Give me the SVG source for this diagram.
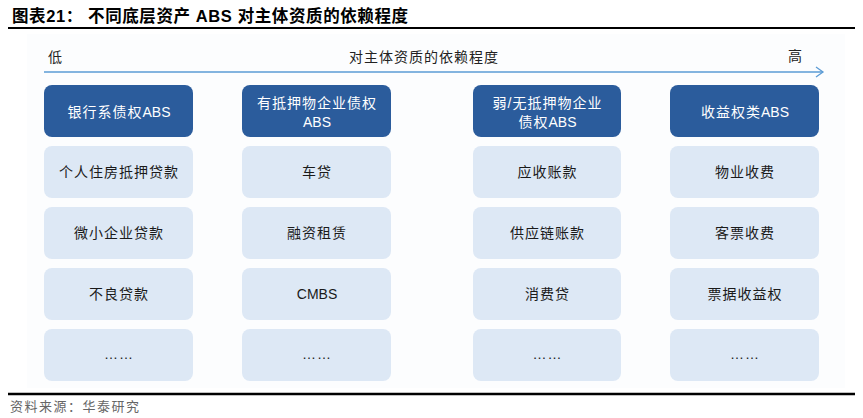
<svg xmlns="http://www.w3.org/2000/svg" width="863" height="418" viewBox="0 0 863 418">
<style>
.t{font-family:"Liberation Sans","Noto Sans CJK SC",sans-serif;}
.hd rect{fill:#2b5c9c;}
.hd text{fill:#ffffff;font-family:"Liberation Sans","Noto Sans CJK SC",sans-serif;font-size:14px;letter-spacing:1px;text-anchor:middle;}
.hd tspan.l{letter-spacing:0px;}
.it rect{fill:#dde8f5;}
.it text{fill:#1a1a1a;font-family:"Liberation Sans","Noto Sans CJK SC",sans-serif;font-size:14px;letter-spacing:1px;text-anchor:middle;}
.it text.l{letter-spacing:0px;}
.ax{fill:#222;font-family:"Liberation Sans","Noto Sans CJK SC",sans-serif;font-size:14px;letter-spacing:1px;}
</style>
<defs>
<marker id="chev" markerWidth="12" markerHeight="12" refX="10" refY="6" orient="auto" markerUnits="userSpaceOnUse">
<path d="M3,1 L10,6 L3,11" fill="none" stroke="#5b9bd5" stroke-width="1.3"/>
</marker>
</defs>
<rect width="863" height="418" fill="#ffffff"/>
<text x="12" y="22" class="t" font-size="16.5" font-weight="bold" letter-spacing="0.6" fill="#000">图表21：  不同底层资产 ABS 对主体资质的依赖程度</text>
<line x1="8" y1="28" x2="855" y2="28" stroke="#000" stroke-width="2"/>
<rect x="27" y="34" width="818" height="354" fill="#fcfdfe"/>
<g id="axis-labels">
<text x="48" y="62" class="ax">低</text>
<text x="424" y="62" class="ax" text-anchor="middle">对主体资质的依赖程度</text>
<text x="788" y="61" class="ax">高</text>
</g>
<g id="connectors">
<line x1="44" y1="72" x2="823" y2="72" stroke="#5b9bd5" stroke-width="1.3" marker-end="url(#chev)"/>
</g>
<g id="col1-header" class="hd"><rect x="44" y="85" width="149" height="52" rx="8"/><text x="119" y="117">银行系债权<tspan class="l">ABS</tspan></text></g>
<g id="col2-header" class="hd"><rect x="242" y="85" width="149" height="52" rx="8"/><text x="317" y="108">有抵押物企业债权</text><text x="317" y="127"><tspan class="l">ABS</tspan></text></g>
<g id="col3-header" class="hd"><rect x="473" y="85" width="148" height="52" rx="8"/><text x="547.5" y="108">弱/无抵押物企业</text><text x="547.5" y="127">债权<tspan class="l">ABS</tspan></text></g>
<g id="col4-header" class="hd"><rect x="670" y="85" width="149" height="52" rx="8"/><text x="745" y="117">收益权类<tspan class="l">ABS</tspan></text></g>

<g id="c1r1" class="it"><rect x="44" y="146" width="149" height="52" rx="8"/><text x="119" y="177">个人住房抵押贷款</text></g>
<g id="c1r2" class="it"><rect x="44" y="207" width="149" height="52" rx="8"/><text x="119" y="238">微小企业贷款</text></g>
<g id="c1r3" class="it"><rect x="44" y="268" width="149" height="52" rx="8"/><text x="119" y="299">不良贷款</text></g>
<g id="c1r4" class="it"><rect x="44" y="329" width="149" height="52" rx="8"/><text x="119" y="359">……</text></g>

<g id="c2r1" class="it"><rect x="242" y="146" width="149" height="52" rx="8"/><text x="317" y="177">车贷</text></g>
<g id="c2r2" class="it"><rect x="242" y="207" width="149" height="52" rx="8"/><text x="317" y="238">融资租赁</text></g>
<g id="c2r3" class="it"><rect x="242" y="268" width="149" height="52" rx="8"/><text class="l" x="317" y="299">CMBS</text></g>
<g id="c2r4" class="it"><rect x="242" y="329" width="149" height="52" rx="8"/><text x="317" y="359">……</text></g>

<g id="c3r1" class="it"><rect x="473" y="146" width="148" height="52" rx="8"/><text x="547.5" y="177">应收账款</text></g>
<g id="c3r2" class="it"><rect x="473" y="207" width="148" height="52" rx="8"/><text x="547.5" y="238">供应链账款</text></g>
<g id="c3r3" class="it"><rect x="473" y="268" width="148" height="52" rx="8"/><text x="547.5" y="299">消费贷</text></g>
<g id="c3r4" class="it"><rect x="473" y="329" width="148" height="52" rx="8"/><text x="547.5" y="359">……</text></g>

<g id="c4r1" class="it"><rect x="670" y="146" width="149" height="52" rx="8"/><text x="745" y="177">物业收费</text></g>
<g id="c4r2" class="it"><rect x="670" y="207" width="149" height="52" rx="8"/><text x="745" y="238">客票收费</text></g>
<g id="c4r3" class="it"><rect x="670" y="268" width="149" height="52" rx="8"/><text x="745" y="299">票据收益权</text></g>
<g id="c4r4" class="it"><rect x="670" y="329" width="149" height="52" rx="8"/><text x="745" y="359">……</text></g>

<line x1="8" y1="394" x2="855" y2="394" stroke="#000" stroke-width="2.5"/>
<text x="10" y="411" font-family="'Liberation Serif','Noto Sans CJK SC',serif" font-size="13" letter-spacing="1.5" fill="#666">资料来源：华泰研究</text>
</svg>
